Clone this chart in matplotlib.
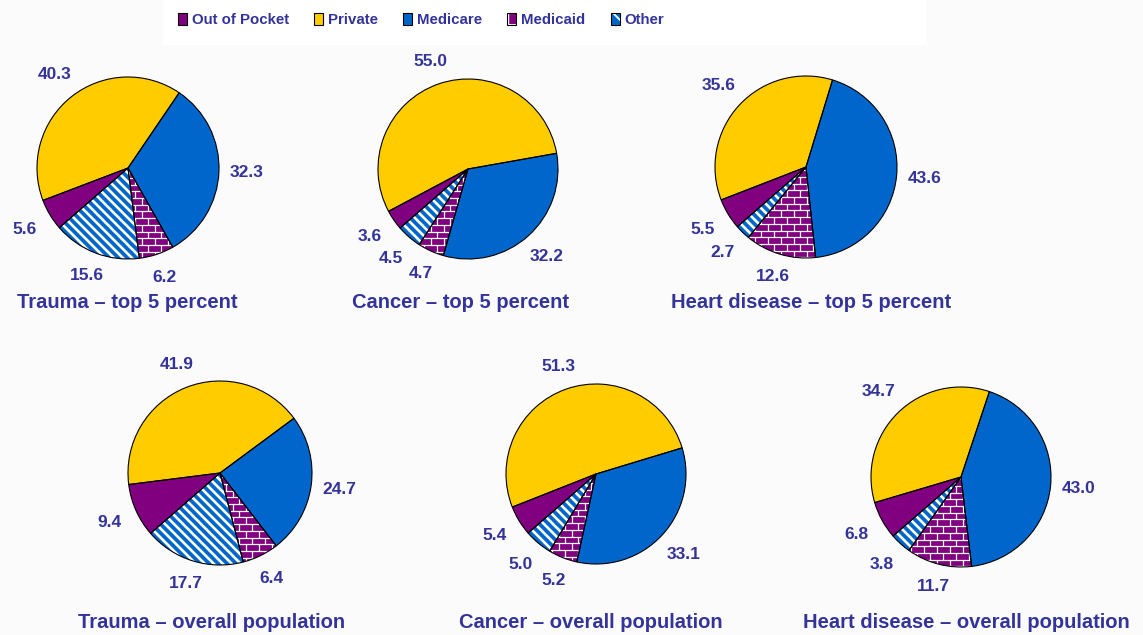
import numpy as np
import matplotlib
matplotlib.use("Agg")
import matplotlib.pyplot as plt
from matplotlib.collections import LineCollection
from matplotlib.patches import Patch, Rectangle
from matplotlib.legend_handler import HandlerTuple

plt.rcParams['font.family'] = ['Liberation Sans', 'DejaVu Sans']
plt.rcParams['font.weight'] = 'bold'
plt.rcParams['hatch.linewidth'] = 1.3

# Payer categories, in drawing order (clockwise)
payers = ["Out of Pocket", "Private", "Medicare", "Medicaid", "Other"]

# Percent of expenditures by payer
trauma_top5 = [5.6, 40.3, 32.3, 6.2, 15.6]
cancer_top5 = [3.6, 55.0, 32.2, 4.7, 4.5]
heart_top5 = [5.5, 35.6, 43.6, 12.6, 2.7]
trauma_all = [9.4, 41.9, 24.7, 6.4, 17.7]
cancer_all = [5.4, 51.3, 33.1, 5.2, 5.0]
heart_all = [6.8, 34.7, 43.0, 11.7, 3.8]

titles = ["Trauma \u2013 top 5 percent", "Cancer \u2013 top 5 percent",
          "Heart disease \u2013 top 5 percent",
          "Trauma \u2013 overall population", "Cancer \u2013 overall population",
          "Heart disease \u2013 overall population"]
series = [trauma_top5, cancer_top5, heart_top5, trauma_all, cancer_all, heart_all]

colors = ["#800080", "#FFCC00", "#0066CC", "#800080", "#0066CC"]
text_color = "#333399"

W, H = 1143, 635
# layout: pie centre (px from top-left), radius, title position
pies = [((128, 168), 91, (127, 303)),
        ((468, 169), 90, (461, 303)),
        ((806, 167), 91, (811, 303)),
        ((220, 473), 92, (212, 623)),
        ((596, 474), 90, (591, 623)),
        ((961, 477), 90, (966, 623))]

fig = plt.figure(figsize=(W / 100, H / 100), dpi=100, facecolor="#fbfbfb")
ax = fig.add_axes([0, 0, 1, 1])


def bricks(wedge, cx, cy, r, h=6.7, w=13.0):
    R = r + 6
    segs = []
    ys = np.arange(cy - R, cy + R, h)
    for k, y in enumerate(ys):
        segs.append([(cx - R, y), (cx + R, y)])
        for x in np.arange(cx - R + (k % 2) * w / 2, cx + R, w):
            segs.append([(x, y), (x, y + h)])
    lc = LineCollection(segs, colors="white", linewidths=0.9, zorder=2)
    ax.add_collection(lc)
    lc.set_clip_path(wedge)


def stripes(wedge, cx, cy, r, step=9.0):
    R = r + 6
    segs = [[(cx - R, cy + R + b), (cx + R, cy - R + b)]
            for b in np.arange(-2 * R, 2 * R, step)]
    lc = LineCollection(segs, colors="white", linewidths=1.9, zorder=2)
    ax.add_collection(lc)
    lc.set_clip_path(wedge)


for vals, title, ((px, py), r, (tx, ty)) in zip(series, titles, pies):
    cx, cy = px, H - py
    wedges, _ = ax.pie(vals, colors=colors, center=(cx, cy), radius=r,
                       startangle=221, counterclock=False, frame=True,
                       wedgeprops=dict(linewidth=0))
    ax.pie(vals, center=(cx, cy), radius=r, startangle=221, counterclock=False,
           frame=True, wedgeprops=dict(fill=False, edgecolor="black",
                                       linewidth=0.8, zorder=3))
    bricks(wedges[3], cx, cy, r)
    stripes(wedges[4], cx, cy, r)
    for wd, v in zip(wedges, vals):
        ang = np.deg2rad((wd.theta1 + wd.theta2) / 2)
        c, s = np.cos(ang), np.sin(ang)
        d = r + 10 + abs(c) * 17 + abs(s) * 9
        ax.text(cx + d * c, cy + d * s, f"{v:.1f}", ha="center", va="center",
                fontsize=12.5, color=text_color)
    ax.text(tx, H - ty, title, ha="center", va="center", fontsize=14.5,
            color=text_color)

ax.set_xlim(0, W)
ax.set_ylim(0, H)
ax.set_aspect("auto")
ax.axis("off")

# white band behind the legend
fig.patches.append(Rectangle((163 / W, 1 - 45 / H), 763 / W, 45 / H,
                             transform=fig.transFigure, facecolor="white",
                             edgecolor="none", zorder=0))

handles = []
for name, col in zip(payers, colors):
    border = Patch(fill=False, edgecolor="black", linewidth=0.8)
    if name == "Medicaid":
        handles.append((Patch(facecolor=col, edgecolor="white", hatch="+", linewidth=0), border))
    elif name == "Other":
        handles.append((Patch(facecolor=col, edgecolor="white", hatch="\\\\", linewidth=0), border))
    else:
        handles.append((Patch(facecolor=col, linewidth=0), border))

fig.legend(handles, payers, handler_map={tuple: HandlerTuple(ndivide=1)},
           loc="center", bbox_to_anchor=(421 / W, 1 - 20 / H), ncol=5,
           frameon=False, fontsize=10.8, labelcolor=text_color,
           handlelength=0.6, handleheight=0.8, handletextpad=0.3,
           columnspacing=1.7)

fig.savefig("out.png", dpi=100, facecolor=fig.get_facecolor())
